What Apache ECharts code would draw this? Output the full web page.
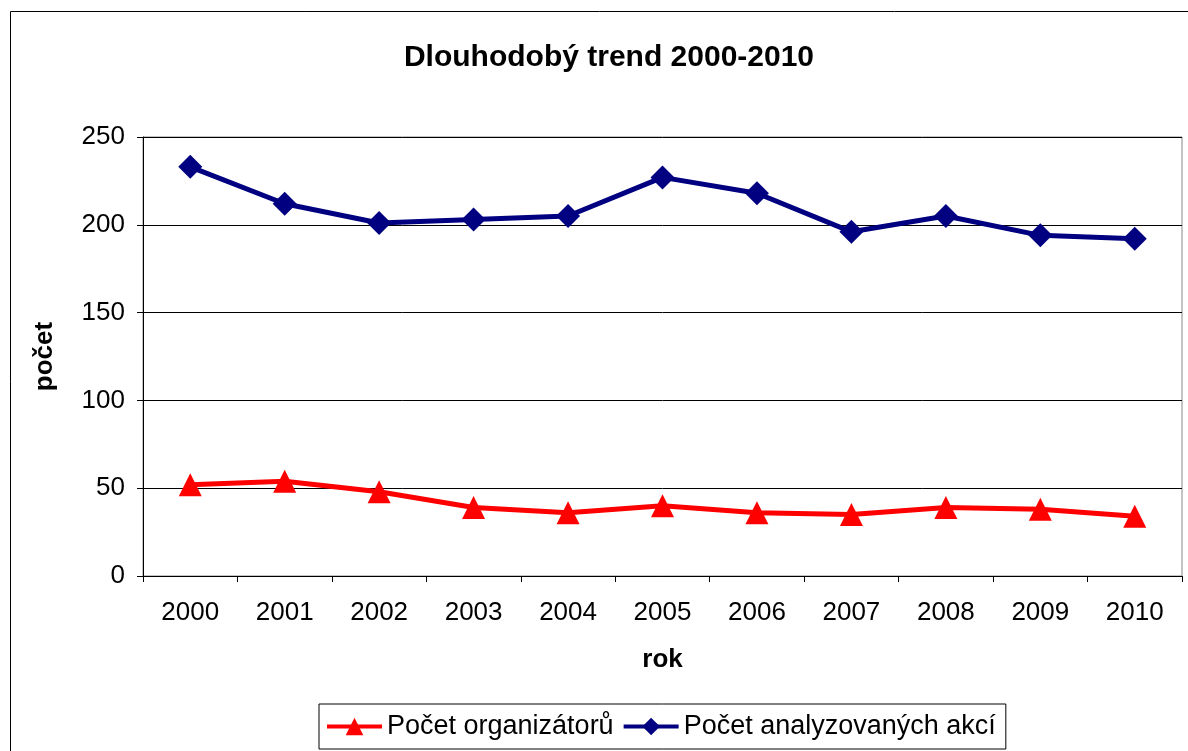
<!DOCTYPE html>
<html>
<head>
<meta charset="utf-8">
<script src="https://cdn.jsdelivr.net/npm/echarts@6/dist/echarts.min.js"></script>
<style>
html,body{margin:0;padding:0;background:#fff;}
#chart{width:1188px;height:751px;}
</style>
</head>
<body>
<div id="chart"></div>
<script>
var years = ['2000','2001','2002','2003','2004','2005','2006','2007','2008','2009','2010'];
var organizatori = [52, 54, 48, 39, 36, 40, 36, 35, 39, 38, 34];
var akce = [233, 212, 201, 203, 205, 227, 218, 196, 205, 194, 192];
var yTicks = [0, 50, 100, 150, 200, 250];

var FONT = '"Liberation Sans", Arial, sans-serif';
var chart = echarts.init(document.getElementById('chart'), null, {renderer: 'canvas'});
chart.setOption({
  animation: false,
  backgroundColor: '#fff',
  title: {
    text: 'Dlouhodobý trend 2000-2010',
    left: 604, top: 38, textAlign: 'center',
    textStyle: {fontFamily: FONT, fontSize: 30, fontWeight: 'bold', color: '#000'}
  },
  graphic: [{
    type: 'rect', silent: true, z: -1,
    shape: {x: 10.5, y: 11.5, width: 1300, height: 900},
    style: {fill: null, stroke: '#000', lineWidth: 1}
  }],
  legend: {
    left: 319, top: 704,
    padding: [9, 10, 9, 6],
    borderColor: '#000', borderWidth: 1,
    itemWidth: 55, itemHeight: 22, itemGap: 8,
    lineStyle: {width: 4},
    textStyle: {fontFamily: FONT, fontSize: 27, color: '#000'},
    data: ['Počet organizátorů', 'Počet analyzovaných akcí']
  },
  grid: {
    left: 143, right: 6, top: 137, bottom: 175,
    show: true, borderColor: '#888', borderWidth: 1, backgroundColor: 'transparent'
  },
  xAxis: {
    type: 'category', data: years, boundaryGap: true,
    name: 'rok', nameLocation: 'middle', nameGap: 71,
    nameTextStyle: {fontFamily: FONT, fontSize: 26, fontWeight: 'bold', color: '#000'},
    axisLine: {lineStyle: {color: '#000', width: 1}},
    axisTick: {show: true, alignWithLabel: false, length: 6, lineStyle: {color: '#000'}},
    axisLabel: {fontFamily: FONT, fontSize: 26, color: '#000', margin: 24}
  },
  yAxis: {
    type: 'value', min: 0, max: 250, interval: 50,
    name: 'počet', nameLocation: 'middle', nameGap: 85, nameRotate: 90,
    nameTextStyle: {fontFamily: FONT, fontSize: 26, fontWeight: 'bold', color: '#000'},
    axisLine: {show: true, lineStyle: {color: '#000', width: 1}},
    axisTick: {show: true, length: 6, lineStyle: {color: '#000'}},
    axisLabel: {fontFamily: FONT, fontSize: 26, color: '#000', margin: 18,
      formatter: function (v) { return yTicks.indexOf(v) >= 0 ? String(v) : ''; }},
    splitLine: {show: true, lineStyle: {color: '#000', width: 1}}
  },
  series: [
    {
      name: 'Počet organizátorů', type: 'line', data: organizatori,
      symbol: 'triangle', symbolSize: [23, 23],
      lineStyle: {color: '#ff0000', width: 5},
      itemStyle: {color: '#ff0000'}, z: 3
    },
    {
      name: 'Počet analyzovaných akcí', type: 'line', data: akce,
      symbol: 'diamond', symbolSize: [24, 24],
      lineStyle: {color: '#000080', width: 5},
      itemStyle: {color: '#000080'}, z: 4
    }
  ]
});
</script>
</body>
</html>
